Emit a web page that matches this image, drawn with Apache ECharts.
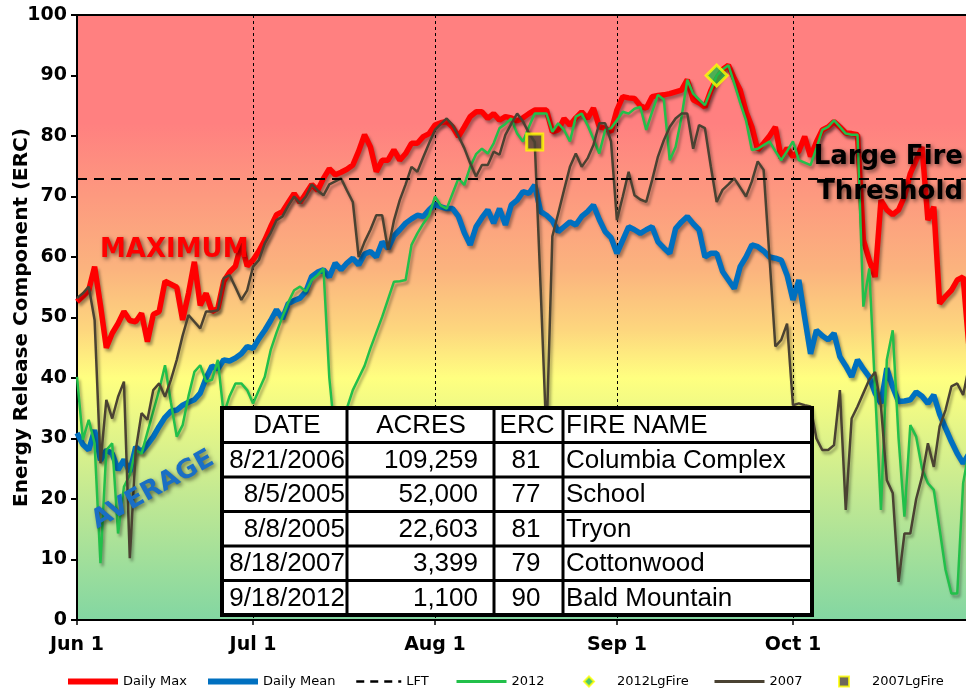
<!DOCTYPE html>
<html>
<head>
<meta charset="utf-8">
<title>ERC</title>
<script src="https://cdn.jsdelivr.net/npm/echarts@6/dist/echarts.min.js"></script>
<style>
  html, body { margin: 0; padding: 0; background: #fff; }
  #echarts { width: 966px; height: 688px; }
</style>
</head>
<body>
<div id="echarts"></div>
<script>
// x axis: one category per day, Jun 1 .. Oct 31
const monthNames = ['Jun', 'Jul', 'Aug', 'Sep', 'Oct'];
const monthLen = [30, 31, 31, 30, 31];
const tickIdx = [0, 30, 61, 92, 122];
const tickLabels = ['Jun 1', 'Jul 1', 'Aug 1', 'Sep 1', 'Oct 1'];

const maxErc = [
  52.6, 53.5, 54.5, 58.4, 52, 45, 47.4, 49, 51, 49.5,
  49.3, 50.7, 46, 50.5, 51, 56, 55.5, 55, 49.6, 54,
  59.2, 52, 54, 51, 51.5, 56, 57.5, 58.5, 62.3, 58.5,
  59.5, 61, 62.8, 65, 67, 67.5, 69, 70.5, 69, 70.5,
  72, 71, 73, 74.6, 73.6, 74, 74.5, 75.2, 77.5, 80.2,
  78.2, 74.1, 76, 76, 77.7, 76, 77.1, 78.8, 78.8, 79.9,
  80.4, 81.8, 82.2, 82.4, 81.5, 79.9, 81.5, 83.2, 84, 84,
  82.9, 83.7, 82.6, 83.2, 83, 82.5, 83, 83.7, 84.3, 84.3,
  84.3, 80.7, 81, 82.9, 81.8, 83, 84, 82.9, 84.6, 81.5,
  81.3, 80.7, 84.3, 86.5, 86.3, 86.2, 85, 84.6, 86.5, 86.7,
  86.8, 87, 87.3, 87.6, 89.3, 86, 85.5, 84.8, 87.5, 89.5,
  91, 91.7, 89.5, 87.6, 84, 81.5, 77.7, 78.8, 80, 81.5,
  76.3, 78, 76.6, 77.5, 79.9, 76.6, 79, 81, 81.5, 82.4,
  81.5, 80.5, 80.4, 80.2, 62.8, 59.5, 56.7, 69.4, 67.8, 67,
  67.8, 70, 73.8, 76, 78.2, 66.1, 68.3, 52.3, 53.5, 54.5,
  56.2, 56.7, 45
];
const meanErc = [
  30.9, 29, 28.1, 31.4, 26.4, 28.1, 27.5, 24.8, 26.5, 24.5,
  28.6, 27.8, 29, 30.3, 32, 33.5, 34.5, 34.7, 35.5, 36,
  36.4, 37.5, 40, 42, 41.5, 43, 42.8, 43.3, 44, 45.2,
  44.9, 46.5, 47.9, 49.5, 51.3, 49.8, 52.3, 52.8, 53.2, 54.3,
  56.8, 57.5, 57.9, 56.7, 59, 57.9, 59, 59.8, 58.7, 60.5,
  60.9, 60, 62.5, 61.4, 63.5, 64.5, 65.6, 66.3, 66.9, 66.7,
  67.8, 68.7, 68.3, 68, 68, 66.7, 64, 62, 65, 66.5,
  67.8, 65.6, 68, 65.3, 68.6, 69.4, 70.8, 70.5, 71.9, 67.5,
  66.9, 66, 64.2, 65, 65.8, 65.3, 66.7, 67.5, 68.6, 66.2,
  64.2, 63.2, 60.6, 62.8, 65, 64.5, 63.9, 64.5, 65, 62.5,
  61.5, 60.6, 64.7, 65.8, 66.7, 65.5, 64.5, 60, 60.6, 60.6,
  57.6, 56.2, 54.8, 58.4, 60, 62, 61.7, 61, 60, 59.8,
  59.5, 57, 52.9, 56.2, 50, 44, 47.9, 47, 46.3, 47.4,
  43.5, 42, 40.2, 43, 41.5, 40.2, 37.5, 35.8, 41.6, 38.5,
  36.1, 36.2, 36.4, 37.7, 37, 35.8, 37.2, 34, 31.7, 29.5,
  27.5, 25.9, 27.5
];
const erc2012 = [
  40.2, 29.8, 33.1, 29.2, 9.4, 28.1, 29.2, 14.3, 22, 24,
  28.1, 27.5, 31, 34.5, 38, 42.1, 36, 30.3, 32.2, 37,
  41, 42.1, 39.4, 39.7, 43, 34, 37, 39.1, 39.1, 38,
  35.8, 38, 40.2, 44.6, 47.5, 50.1, 52.5, 54.5, 55.1, 54.3,
  56.2, 57, 58.1, 40, 30, 31, 35, 38, 40, 42,
  44.9, 47.5, 50.1, 53, 55.9, 56, 56.2, 62, 63.9, 65.5,
  66.9, 70, 68.5, 68, 70.5, 73, 71.9, 74.9, 77, 77.9,
  77.1, 78.8, 81.3, 82, 82.9, 80.4, 79.1, 81.5, 83.7, 83.7,
  83.7, 80.7, 82.1, 81, 79.1, 83.2, 83.7, 81.8, 79.5, 77.1,
  81, 81.3, 82.6, 84, 83.7, 84.5, 84.8, 81, 84, 86.8,
  86, 76, 78.2, 83, 89.3, 87, 86, 85.1, 87.5, 90,
  91, 91.7, 88.7, 85.5, 82.6, 77.7, 77.9, 78.5, 79.1, 77.5,
  76, 77.5, 79.1, 76, 75.6, 75.2, 78, 81, 81.5, 82.6,
  81.5, 80.4, 80.2, 80.2, 51.8, 58.1, 38, 18.2, 43, 47.9,
  30, 17.1, 32.2, 30.3, 25, 22.6, 21.5, 15, 8.3, 4.4,
  4.4, 22.6, 28
];
const erc2007 = [
  53.2, 54, 55.1, 49.6, 25.9, 36.4, 33.3, 36.9, 39.4, 10.2,
  28, 34.2, 33.1, 38, 39.1, 36.9, 39.7, 43, 47, 50.4,
  49.3, 48.2, 51, 51, 51.2, 56.5, 57, 55, 52.9, 54.5,
  58.4, 59.5, 62.3, 64, 66.1, 66.7, 68.5, 70, 68.9, 70,
  72, 71, 70.2, 72, 72.5, 73, 71, 69.1, 60, 62.5,
  64.5, 66.9, 66.9, 61.2, 66, 69.4, 72, 74.9, 74.1, 76.5,
  78.8, 81, 82, 82.9, 81.8, 80, 78, 75.5, 73.3, 75.2,
  75.2, 77.4, 76.9, 80.2, 82, 83.7, 82.4, 80.5, 79, 55,
  30, 63.4, 67.2, 71.1, 74.9, 77.1, 74.9, 76.3, 78.5, 82.1,
  82.1, 79.1, 66.1, 70, 74.1, 70.2, 69.5, 69.1, 72.7, 76.6,
  79.3, 81.5, 82.9, 83.7, 83.7, 77.9, 81.8, 81.3, 75, 69.1,
  71.1, 72, 73, 71.5, 70, 72.5, 75.8, 74.4, 60, 45.2,
  46.3, 49, 35.5, 35.8, 35.5, 35.3, 30, 28.1, 28.1, 28.9,
  38, 18.2, 33.3, 35.3, 37.5, 39.7, 41, 35.3, 23.1, 21,
  6.3, 14.3, 14.3, 20, 23.7, 29.2, 25.3, 32, 34.7, 38.6,
  39.1, 37.2, 41.9
];
const lft = 73;
// [day index, ERC]
const fire2012 = [[109, 90]];
const fire2007 = [[78, 79]];

// fire table
const tableHead = ['DATE', 'ACRES', 'ERC', 'FIRE NAME'];
const fireDates = ['8/21/2006', '8/5/2005', '8/8/2005', '8/18/2007', '9/18/2012'];
const fireAcres = ['109,259', '52,000', '22,603', '3,399', '1,100'];
const fireErc = ['81', '77', '81', '79', '90'];
const fireNames = ['Columbia Complex', 'School', 'Tryon', 'Cottonwood', 'Bald Mountain'];

const FONT = '"DejaVu Sans", sans-serif';
const TABLE_FONT = '26px "Liberation Sans", Arial, sans-serif';

let days = [];
monthNames.forEach((m, i) => {
  for (let d = 1; d <= monthLen[i]; d++) days.push(m + ' ' + d);
});
function isTick(i) {
  return tickIdx.indexOf(i) >= 0;
}

// table drawn as graphic
let colX = [222, 347, 494, 563, 812];
let rowY0 = 408, rowH = 34.5;
let tableEls = [
  {type: 'rect', z: 40, shape: {x: 222, y: 408, width: 590, height: 207}, style: {fill: '#fff', stroke: '#000', lineWidth: 4}}
];
for (let r = 1; r < 6; r++) {
  tableEls.push({type: 'line', z: 41, shape: {x1: 222, y1: rowY0 + r * rowH, x2: 812, y2: rowY0 + r * rowH}, style: {stroke: '#000', lineWidth: 3}});
}
for (let c = 1; c < 4; c++) {
  tableEls.push({type: 'line', z: 41, shape: {x1: colX[c], y1: 408, x2: colX[c], y2: 615}, style: {stroke: '#000', lineWidth: 3}});
}
function cellText(txt, x, row, align) {
  return {
    type: 'text', z: 42, x: x, y: rowY0 + row * rowH + rowH / 2 + 1,
    style: {text: txt, fill: '#000', font: TABLE_FONT, align: align, textAlign: align, verticalAlign: 'middle', textVerticalAlign: 'middle'}
  };
}
tableEls.push(cellText(tableHead[0], 287, 0, 'center'));
tableEls.push(cellText(tableHead[1], 421, 0, 'center'));
tableEls.push(cellText(tableHead[2], 527, 0, 'center'));
tableEls.push(cellText(tableHead[3], 566, 0, 'left'));
fireDates.forEach((d, i) => {
  tableEls.push(cellText(d, 345, i + 1, 'right'));
  tableEls.push(cellText(fireAcres[i], 478, i + 1, 'right'));
  tableEls.push(cellText(fireErc[i], 526, i + 1, 'center'));
  tableEls.push(cellText(fireNames[i], 566, i + 1, 'left'));
});

function bigText(txt, x, y, color, align, rot) {
  return {
    type: 'text', x: x, y: y, rotation: rot || 0, z: 50,
    style: {
      text: txt, fill: color, font: 'bold 26px ' + FONT,
      align: align, textAlign: align, verticalAlign: 'middle', textVerticalAlign: 'middle',
      textShadowColor: 'rgba(0,0,0,0.55)', textShadowBlur: 4, textShadowOffsetX: 2, textShadowOffsetY: 2
    }
  };
}

const lineShadow = {shadowColor: 'rgba(0,0,0,0.35)', shadowBlur: 3, shadowOffsetX: 2, shadowOffsetY: 3};

// one legend box per entry so that each sits where the original puts it
const legendNames = ['Daily Max', 'Daily Mean', 'LFT', '2012', '2012LgFire', '2007', '2007LgFire'];
const legendLeft = [60, 200, 350, 450, 578, 708, 833];
const legendIconW = [50, 50, 45, 50, 10, 50, 10];
const legendLineW = [6, 6, 2.5, 3, 0, 3, 0];
let legends = legendNames.map((name, i) => {
  let isMarker = legendIconW[i] < 20;
  let box = {
    left: legendLeft[i], top: 670,
    itemWidth: legendIconW[i], itemHeight: isMarker ? 10 : 8,
    textStyle: {fontSize: 13, color: '#000', fontFamily: FONT, padding: [0, 0, 0, isMarker ? 18 : 0]},
    data: [isMarker ? name : {name: name, itemStyle: {opacity: 0}}]
  };
  if (!isMarker) box.lineStyle = {width: legendLineW[i], shadowBlur: 0, shadowOffsetX: 0, shadowOffsetY: 0};
  return box;
});

let myChart = echarts.init(document.getElementById('echarts'));

myChart.setOption({
  animation: false,
  textStyle: {fontFamily: FONT},
  grid: {
    left: 77, right: -3, top: 15, bottom: 68,
    outerBoundsMode: 'none',
    show: true, borderColor: '#000', borderWidth: 2,
    backgroundColor: {
      type: 'linear', x: 0, y: 0, x2: 0, y2: 1,
      colorStops: [
        {offset: 0, color: '#ff8080'},
        {offset: 0.18, color: '#ff8080'},
        {offset: 0.42, color: '#fbb37e'},
        {offset: 0.52, color: '#fdd67e'},
        {offset: 0.6, color: '#ffff80'},
        {offset: 0.8, color: '#c0e893'},
        {offset: 1, color: '#82d6a2'}
      ]
    }
  },
  legend: legends,
  xAxis: {
    type: 'category',
    data: days,
    boundaryGap: false,
    axisLine: {lineStyle: {color: '#000', width: 2}},
    axisTick: {show: true, length: 5, interval: isTick, lineStyle: {color: '#000', width: 1.5}},
    axisLabel: {
      interval: isTick, color: '#000', fontWeight: 'bold', fontSize: 19, margin: 16,
      formatter: function (v, i) {
        return tickLabels[tickIdx.indexOf(i)];
      }
    },
    splitLine: {
      show: true,
      interval: function (i) { return i > 0 && isTick(i); },
      lineStyle: {color: '#000', width: 1, type: [3, 3]}
    }
  },
  yAxis: {
    type: 'value', min: 0, max: 100, interval: 10,
    name: 'Energy Release Component (ERC)',
    nameLocation: 'middle', nameGap: 45, nameMoveOverlap: false,
    nameTextStyle: {fontWeight: 'bold', fontSize: 20, color: '#000'},
    axisLine: {show: true, lineStyle: {color: '#000', width: 2}},
    axisTick: {show: true, length: 6, lineStyle: {color: '#000', width: 2}},
    axisLabel: {color: '#000', fontWeight: 'bold', fontSize: 19, margin: 10},
    splitLine: {show: false}
  },
  series: [
    {
      name: 'Daily Max', type: 'line', data: maxErc, symbol: 'none',
      itemStyle: {color: '#ff0000'},
      lineStyle: Object.assign({color: '#ff0000', width: 5.5}, lineShadow)
    },
    {
      name: 'Daily Mean', type: 'line', data: meanErc, symbol: 'none',
      itemStyle: {color: '#0070c0'},
      lineStyle: Object.assign({color: '#0070c0', width: 5.5}, lineShadow)
    },
    {
      name: 'LFT', type: 'line', data: [], symbol: 'none',
      itemStyle: {color: '#000'},
      lineStyle: {color: '#000', width: 2, type: [8, 6]},
      markLine: {
        silent: true, symbol: 'none', label: {show: false},
        lineStyle: {color: '#000', width: 2, type: [10, 7]},
        data: [{yAxis: lft}]
      }
    },
    {
      name: '2012', type: 'line', data: erc2012, symbol: 'none',
      itemStyle: {color: '#22c04a'},
      lineStyle: Object.assign({color: '#22c04a', width: 2.5}, lineShadow)
    },
    {
      name: '2012LgFire', type: 'scatter', data: fire2012, symbol: 'diamond', symbolSize: 21, z: 5,
      itemStyle: {color: '#22b84a', borderColor: '#ffff00', borderWidth: 3}
    },
    {
      name: '2007', type: 'line', data: erc2007, symbol: 'none',
      itemStyle: {color: '#4a4232'},
      lineStyle: Object.assign({color: '#4a4232', width: 2.5}, lineShadow)
    },
    {
      name: '2007LgFire', type: 'scatter', data: fire2007, symbol: 'rect', symbolSize: 16, z: 5,
      itemStyle: {color: '#4a4232', borderColor: '#ffff00', borderWidth: 3}
    }
  ],
  graphic: [
    bigText('MAXIMUM', 100, 250, '#ff0000', 'left'),
    bigText('AVERAGE', 153, 490, '#1a6fc4', 'center', 29 * Math.PI / 180),
    bigText('Large Fire', 963, 157, '#000', 'right'),
    bigText('Threshold', 963, 192, '#000', 'right'),
    {type: 'group', children: tableEls}
  ]
});
</script>
</body>
</html>
